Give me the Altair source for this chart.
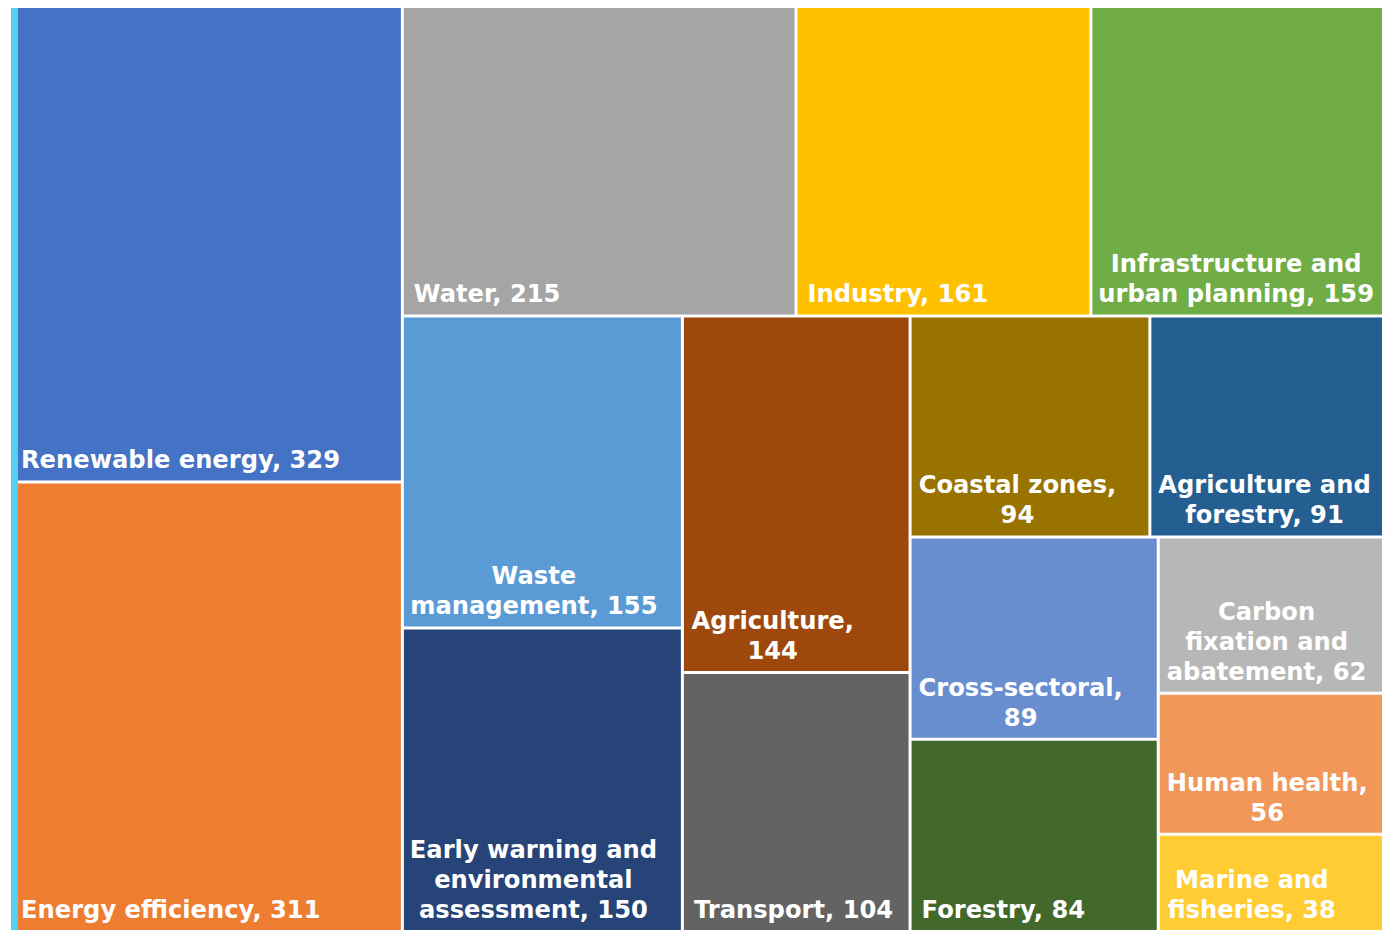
import altair as alt
import pandas as pd

# ---- data ----
names = [
    "Renewable energy", "Energy efficiency", "Water", "Industry",
    "Infrastructure and urban planning", "Waste management",
    "Early warning and environmental assessment", "Agriculture", "Transport",
    "Coastal zones", "Agriculture and forestry", "Cross-sectoral", "Forestry",
    "Carbon fixation and abatement", "Human health", "Marine and fisheries",
]
values = [329, 311, 215, 161, 159, 155, 150, 144, 104, 94, 91, 89, 84, 62, 56, 38]
colors = [
    "#4472C4", "#ED7D31", "#A5A5A5", "#FFC000", "#70AD47", "#5B9BD5",
    "#264478", "#9E480E", "#636363", "#997300", "#255E91", "#698ED0",
    "#43682B", "#B7B7B7", "#F1975A", "#FFCD33",
]
label_lines = [
    ["Renewable energy, 329"],
    ["Energy efficiency, 311"],
    ["Water, 215"],
    ["Industry, 161"],
    ["Infrastructure and", "urban planning, 159"],
    ["Waste", "management, 155"],
    ["Early warning and", "environmental", "assessment, 150"],
    ["Agriculture,", "144"],
    ["Transport, 104"],
    ["Coastal zones,", "94"],
    ["Agriculture and", "forestry, 91"],
    ["Cross-sectoral,", "89"],
    ["Forestry, 84"],
    ["Carbon", "fixation and", "abatement, 62"],
    ["Human health,", "56"],
    ["Marine and", "fisheries, 38"],
]
# strip structure of the treemap: (orientation, number of items)
strips = [("col", 2), ("row", 3), ("col", 2), ("col", 2), ("row", 2),
          ("col", 2), ("row", 1), ("row", 1), ("row", 1)]

# ---- sizes / style ----
W, H = 1371, 922
GAP = 3
PAD_X = 10
PAD_B = 12
LINE = 30
FS = 24.2
FONT = "DejaVu Sans"
FRAME = "#52D0F0"
FRAME_W = 7

# approximate DejaVu Sans Bold advance widths (units per 2048 em)
CW = {" ": 713, ",": 778, "-": 852, "A": 1585, "C": 1499, "E": 1399, "F": 1399,
      "H": 1712, "I": 762, "M": 2035, "R": 1577, "T": 1397, "W": 2104,
      "a": 1382, "b": 1466, "c": 1214, "d": 1466, "e": 1389, "f": 891,
      "g": 1466, "h": 1458, "i": 702, "l": 702, "m": 2134, "n": 1458,
      "o": 1407, "p": 1466, "r": 1010, "s": 1219, "t": 979, "u": 1458,
      "v": 1335, "w": 1821, "x": 1321, "y": 1335, "z": 1192}


def text_width(s):
    return sum(CW.get(ch, 1425) for ch in s) * FS / 2048.0 * 0.97


def layout(vals, w, h, spec):
    x0, y0, x1, y1 = 0.0, 0.0, float(w), float(h)
    rem = float(sum(vals))
    out = []
    idx = 0
    for orient, n in spec:
        group = vals[idx:idx + n]
        s = float(sum(group))
        frac = s / rem
        if orient == "col":
            cw = (x1 - x0) * frac
            yy = y0
            for v in group:
                hh = (y1 - y0) * v / s
                out.append((x0, yy, x0 + cw, yy + hh))
                yy += hh
            x0 += cw
        else:
            rh = (y1 - y0) * frac
            xx = x0
            for v in group:
                ww = (x1 - x0) * v / s
                out.append((xx, y0, xx + ww, y0 + rh))
                xx += ww
            y0 += rh
        rem -= s
        idx += n
    return out


rects = layout(values, W, H, strips)

rows = []
trows = []
g = GAP / 2.0
for i, (a, b, c, d) in enumerate(rects):
    ax = a + g if a > 0.5 else a
    cx = c - g if c < W - 0.5 else c
    by = b + g if b > 0.5 else b
    dy = d - g if d < H - 0.5 else d
    rows.append({"name": names[i], "value": values[i], "x0": ax, "x1": cx,
                 "y0": by, "y1": dy})
    lines = label_lines[i]
    n = len(lines)
    blockw = max(text_width(l) for l in lines)
    for j, l in enumerate(lines):
        ty = dy - PAD_B - (n - 1 - j) * LINE
        if n == 1:
            trows.append({"t": l, "tx": ax + PAD_X, "ty": ty, "al": "left"})
        else:
            trows.append({"t": l, "tx": ax + PAD_X + blockw / 2.0, "ty": ty,
                          "al": "center"})

df = pd.DataFrame(rows)
tdf = pd.DataFrame(trows)

xs = alt.Scale(domain=[0, W], nice=False, zero=False)
ys = alt.Scale(domain=[0, H], nice=False, zero=False, reverse=True)

tiles = alt.Chart(df).mark_rect().encode(
    x=alt.X("x0:Q", scale=xs, axis=None),
    x2="x1:Q",
    y=alt.Y("y0:Q", scale=ys, axis=None),
    y2="y1:Q",
    color=alt.Color("name:N", scale=alt.Scale(domain=names, range=colors),
                    legend=None),
    tooltip=["name:N", "value:Q"],
)


def text_layer(al):
    return alt.Chart(tdf).transform_filter(
        alt.datum.al == al
    ).mark_text(
        align=al, baseline="alphabetic", font=FONT, fontSize=FS,
        fontWeight="bold", color="white",
    ).encode(
        x=alt.X("tx:Q", scale=xs, axis=None),
        y=alt.Y("ty:Q", scale=ys, axis=None),
        text="t:N",
    )


# decorative chart-area border on the left edge
frame = alt.Chart(pd.DataFrame({"k": [0]})).mark_rect(color=FRAME).encode(
    x=alt.value(0), x2=alt.value(FRAME_W), y=alt.value(0), y2=alt.value(H),
)

chart = alt.layer(tiles, text_layer("left"), text_layer("center"), frame).properties(
    width=W, height=H,
    padding={"left": 3, "top": 0, "right": 0, "bottom": 0},
    autosize="none",
    background="white",
).configure_view(stroke=None, fill="white")

chart.save("out.html", embed_options={"renderer": "svg", "actions": False})
